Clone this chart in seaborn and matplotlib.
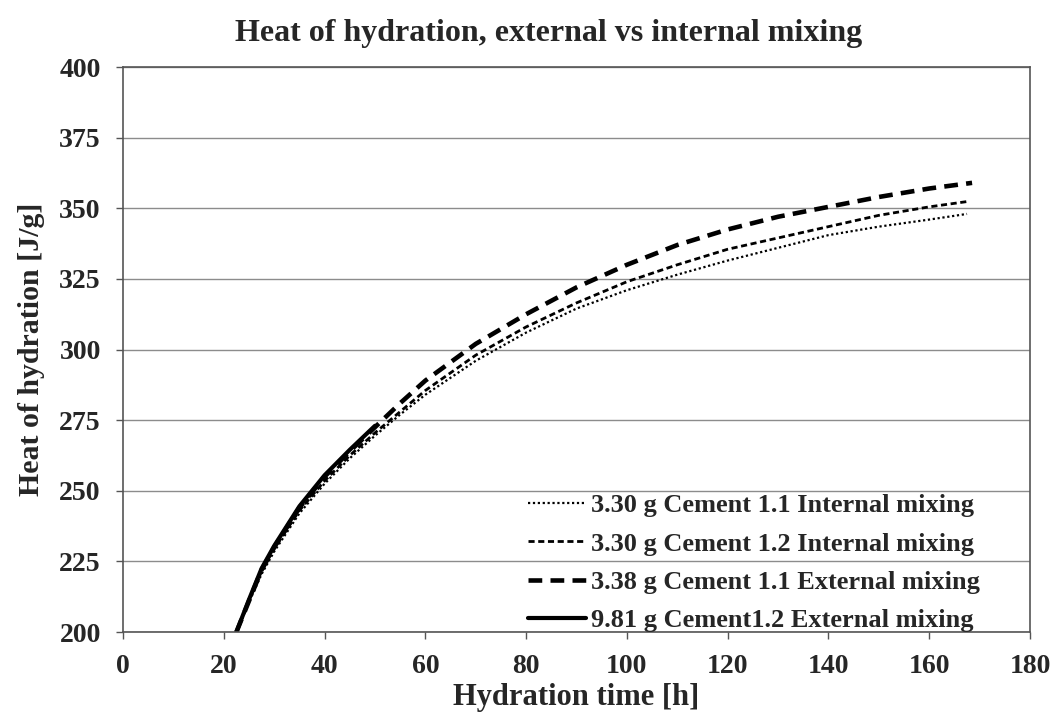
import numpy as np
import pandas as pd
import matplotlib
matplotlib.use("Agg")
import matplotlib.pyplot as plt
import seaborn as sns

# ---------------- DATA ----------------
t_int11 = [22.5, 25, 27.5, 30, 35, 40, 45, 50, 55, 60, 70, 80, 90, 100, 110, 120, 130, 140, 150, 160, 167.5]
q_int11 = [200, 210.5, 220.5, 228.5, 242, 252.5, 261.5, 269.5, 277, 284, 296, 306, 314.5, 321, 326.5, 331.5, 336, 340.5, 343.5, 346, 348]

t_int12 = [22.5, 25, 27.5, 30, 35, 40, 45, 50, 55, 60, 70, 80, 90, 100, 110, 120, 130, 140, 150, 160, 168]
q_int12 = [200, 211, 221.5, 229.5, 243, 253.5, 262.5, 270.5, 278, 285.5, 298, 308, 316.5, 324, 330, 335.5, 339.5, 343.5, 347.5, 350.5, 352.5]

t_ext11 = [22.5, 25, 27.5, 30, 35, 40, 45, 50, 55, 60, 70, 80, 90, 100, 110, 120, 130, 140, 150, 160, 168.5]
q_ext11 = [200, 211, 222, 230, 244, 255, 264, 272.5, 281, 289, 302, 312.5, 322, 330, 337, 342.5, 347, 350.5, 354, 357, 359]

t_ext12 = [22.5, 25, 27.5, 30, 35, 40, 45, 50]
q_ext12 = [200, 211.5, 222.5, 230.5, 244.5, 255.5, 264.5, 273]

labels = [
    "3.30 g Cement 1.1 Internal mixing",
    "3.30 g Cement 1.2 Internal mixing",
    "3.38 g Cement 1.1 External mixing",
    "9.81 g Cement1.2 External mixing",
]

x_ticks = list(range(0, 181, 20))
y_ticks = list(range(200, 401, 25))

# ---------------- STYLE ----------------
sns.set_style("white")
plt.rcParams["font.family"] = ["Liberation Serif", "DejaVu Serif"]
plt.rcParams["font.weight"] = "bold"

fig = plt.figure(figsize=(10.56, 7.2), dpi=100)
ax = fig.add_axes([0.1165, 0.1222, 0.8589, 0.7847])

series = [
    (t_int11, q_int11, dict(lw=1.6, ls=(0, (1, 1.2)))),
    (t_int12, q_int12, dict(lw=2.0, ls=(0, (2.2, 1.3)))),
    (t_ext11, q_ext11, dict(lw=3.3, ls=(0, (3, 1.8)))),
    (t_ext12, q_ext12, dict(lw=3.0, ls="-")),
]

for (t, q, st), lab in zip(series, labels):
    df = pd.DataFrame({"t": t, "q": q})
    sns.lineplot(data=df, x="t", y="q", ax=ax, color="black", label=lab,
                 linewidth=st["lw"], linestyle=st["ls"])

ax.set_xlim(0, 180)
ax.set_ylim(200, 400)
ax.set_xticks(x_ticks)
ax.set_yticks(y_ticks)
ax.yaxis.grid(True, color="#8c8c8c", linewidth=1.0)
ax.xaxis.grid(False)
ax.set_axisbelow(True)

for s in ax.spines.values():
    s.set_color("#555555")
    s.set_linewidth(1.2)

ax.tick_params(axis="both", direction="out", length=5, width=1, color="#555555",
               labelsize=20, bottom=True, left=True)
ax.tick_params(axis="x", pad=11)
ax.tick_params(axis="y", pad=11)
for lab in ax.get_xticklabels() + ax.get_yticklabels():
    lab.set_fontweight("bold")

ax.set_xlabel("Hydration time [h]", fontsize=22, fontweight="bold", labelpad=3)
ax.set_ylabel("Heat of hydration [J/g]", fontsize=21.5, fontweight="bold", labelpad=10)
ax.set_title("Heat of hydration, external vs internal mixing", fontsize=23,
             fontweight="bold", pad=19, x=0.469)

leg = ax.legend(loc="lower right", bbox_to_anchor=(0.945, 0.0), frameon=False,
                fontsize=19, handlelength=2.2, handletextpad=0.2,
                labelspacing=0.56, borderpad=0, borderaxespad=0)
for txt in leg.get_texts():
    txt.set_fontweight("bold")

fig.savefig("out.png", dpi=100)
